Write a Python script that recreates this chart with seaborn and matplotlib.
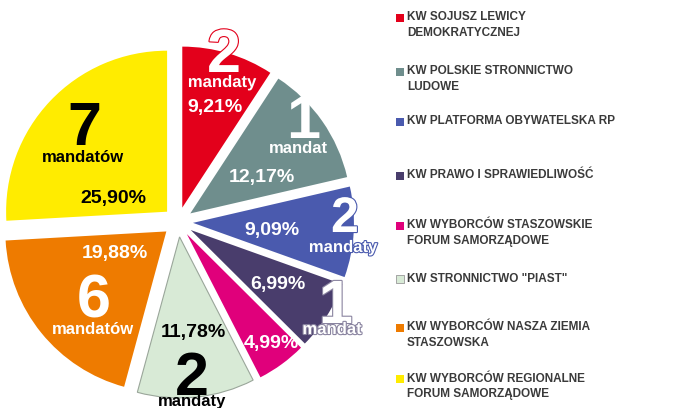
import matplotlib
matplotlib.use("Agg")
import matplotlib.pyplot as plt
import matplotlib.patheffects as pe
import seaborn as sns

# Wyniki wyborów - komitety, procent głosów i mandaty
parties = [
    "KW SOJUSZ LEWICY\nDEMOKRATYCZNEJ",
    "KW POLSKIE STRONNICTWO\nLUDOWE",
    "KW PLATFORMA OBYWATELSKA RP",
    "KW PRAWO I SPRAWIEDLIWOŚĆ",
    "KW WYBORCÓW STASZOWSKIE\nFORUM SAMORZĄDOWE",
    'KW STRONNICTWO "PIAST"',
    "KW WYBORCÓW NASZA ZIEMIA\nSTASZOWSKA",
    "KW WYBORCÓW REGIONALNE\nFORUM SAMORZĄDOWE",
]
shares = [9.21, 12.17, 9.09, 6.99, 4.99, 11.78, 19.88, 25.90]
seats = [2, 1, 2, 1, 0, 2, 6, 7]
seat_words = ["mandaty", "mandat", "mandaty", "mandat", "", "mandaty", "mandatów", "mandatów"]
colors = ["#E3001B", "#6F8E8D", "#4A5AAE", "#493D6C", "#E0007B", "#D8EAD6", "#EE7B00", "#FFEC00"]
text_colors = ["white", "white", "white", "white", "white", "black", "white", "black"]

sns.set_theme(style="white")
plt.rcParams["font.family"] = ["Liberation Sans", "DejaVu Sans"]

W, H = 676, 408
fig = plt.figure(figsize=(6.76, 4.08), dpi=100)
ax = fig.add_axes([0, 0, 1, 1])

wedges, _ = ax.pie(shares, colors=colors, startangle=90, counterclock=False,
                   center=(178, H - 222), radius=161, explode=[15] * len(shares),
                   wedgeprops=dict(linewidth=0))
wedges[5].set_edgecolor("#9AA69A")
wedges[5].set_linewidth(0.8)
ax.set_xlim(0, W)
ax.set_ylim(0, H)
ax.set_aspect("equal")
ax.axis("off")

# label placement in image pixels (x, baseline y)
digit_pos = [(224, 72), (303, 138), (345, 232), (336, 323), None, (192, 395), (94, 318), (84, 145)]
digit_size = [44, 44, 36, 44, 0, 44, 44, 44]
word_pos = [(222, 87), (298, 153), (343, 252), (332, 334), None, (192, 406), (93, 334), (83, 162)]
pct_pos = [(215, 112), (262, 182), (272, 235), (278, 289), (271, 348), (193, 337), (115, 258), (113, 203)]
outlined = [True, False, True, True, False, False, False, False]


def put(x, y, s, size, color, stroke=None):
    t = ax.text(x, H - y, s, ha="center", va="baseline", fontsize=size,
                fontweight="bold", color=color)
    if stroke:
        t.set_path_effects([pe.Stroke(linewidth=1.6, foreground=stroke), pe.Normal()])


for i in range(len(shares)):
    stroke = colors[i] if outlined[i] else None
    if i == 3:
        stroke = "#8A84A0"
    pct = f"{shares[i]:.2f}".replace(".", ",") + "%"
    put(*pct_pos[i], pct, 14, text_colors[i])
    if seats[i]:
        put(*digit_pos[i], str(seats[i]), digit_size[i], text_colors[i], stroke)
        put(*word_pos[i], seat_words[i], 12, text_colors[i], stroke)

# legend
legend_y = [18, 72, 122, 176, 226, 279, 328, 379]
for i, name in enumerate(parties):
    ax.scatter(400, H - legend_y[i], s=34, marker="s", color=colors[i],
               edgecolors="#999999" if i == 5 else "none", linewidths=0.6)
    ax.text(407, H - legend_y[i] + 6.5, name, ha="left", va="top", fontsize=8.5,
            fontweight="bold", color="#3A3A3A", linespacing=1.35)

fig.savefig("out.png", dpi=100)
